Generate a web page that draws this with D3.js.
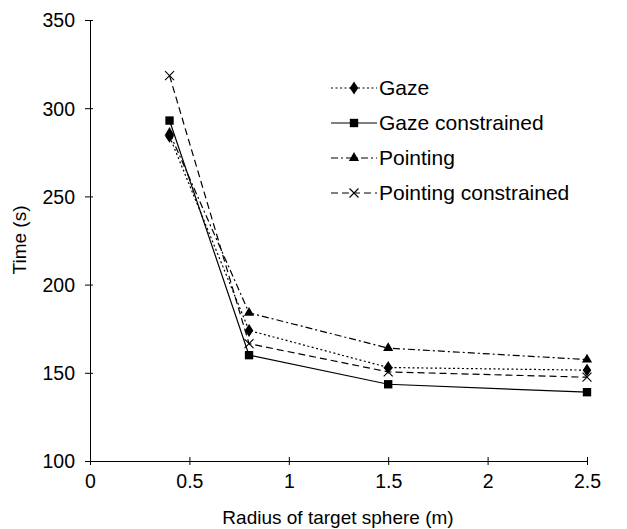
<!DOCTYPE html>
<html><head><meta charset="utf-8">
<script src="https://cdn.jsdelivr.net/npm/d3@7"></script>
<style>body{margin:0;background:#fff}svg{display:block;font-family:"Liberation Sans",Arial,sans-serif}</style>
</head><body><svg id="c" width="627" height="529"></svg>
<script>
const radii = [0.4, 0.8, 1.5, 2.5];
const gaze = [284, 174, 153, 151.5];
const gazeConstrained = [293, 160, 143.5, 139];
const pointing = [286, 184, 164, 157.5];
const pointingConstrained = [318.5, 166.5, 150.5, 147.5];
const xTicks = [0, 0.5, 1, 1.5, 2, 2.5];
const yTicks = [100, 150, 200, 250, 300, 350];
const seriesNames = ["Gaze", "Gaze constrained", "Pointing", "Pointing constrained"];

const series = [
  {name: seriesNames[0], values: gaze, dash: "2,2.5", sym: d3.symbolDiamond, size: 48},
  {name: seriesNames[1], values: gazeConstrained, dash: null, sym: d3.symbolSquare, size: 70},
  {name: seriesNames[2], values: pointing, dash: "7,3,2,3", sym: d3.symbolTriangle, size: 45},
  {name: seriesNames[3], values: pointingConstrained, dash: "7,4", sym: "x", size: 4.5}
];

const svg = d3.select("#c");
const x = d3.scaleLinear().domain([0, 2.5]).range([90, 587]);
const y = d3.scaleLinear().domain([100, 350]).range([461, 20]);

// axes
const xa = svg.append("g").attr("transform", "translate(0,461)")
  .call(d3.axisBottom(x).tickValues(xTicks).tickFormat(d => d).tickSizeInner(4).tickSizeOuter(0).tickPadding(9));
xa.selectAll(".tick line").attr("y1", -4).attr("y2", 4);
const ya = svg.append("g").attr("transform", "translate(90,0)")
  .call(d3.axisLeft(y).tickValues(yTicks).tickSizeInner(5).tickSizeOuter(0).tickPadding(10));
ya.selectAll(".tick line").attr("x2", 3).attr("x1", -5);
[xa, ya].forEach(a => {
  a.selectAll("text").attr("font-size", 19.5).attr("fill", "#000").attr("font-family", "Liberation Sans, Arial, sans-serif");
  a.select(".domain").attr("stroke", "#000");
  a.selectAll(".tick line").attr("stroke", "#000");
});
xa.selectAll("text").attr("dy", "0.71em");
ya.selectAll("text").attr("dy", "0.35em");

svg.append("text").attr("x", 338).attr("y", 524).attr("text-anchor", "middle").attr("font-size", 19).text("Radius of target sphere (m)");
svg.append("text").attr("transform", "translate(26,240) rotate(-90)").attr("text-anchor", "middle").attr("font-size", 19).text("Time (s)");

function drawMarker(g, s, cx, cy) {
  if (s.sym === "x") {
    const r = s.size;
    g.append("path").attr("d", `M${cx-r},${cy-r}L${cx+r},${cy+r}M${cx-r},${cy+r}L${cx+r},${cy-r}`)
      .attr("stroke", "#000").attr("stroke-width", 1.1).attr("fill", "none");
  } else {
    let sym = d3.symbol().type(s.sym).size(s.size);
    let path = g.append("path").attr("d", sym()).attr("fill", "#000");
    if (s.sym === d3.symbolDiamond) path.attr("transform", `translate(${cx},${cy}) scale(1.15,1)`);
    else path.attr("transform", `translate(${cx},${cy})`);
  }
}

const line = d3.line().x((d, i) => x(radii[i])).y(d => y(d));
series.forEach(s => {
  const g = svg.append("g");
  g.append("path").datum(s.values).attr("d", line).attr("fill", "none").attr("stroke", "#000")
    .attr("stroke-width", 1.2).attr("stroke-dasharray", s.dash);
  s.values.forEach((v, i) => drawMarker(g, s, x(radii[i]), y(v)));
});

// legend
const legY = [88, 123, 158, 193];
series.forEach((s, i) => {
  const g = svg.append("g");
  g.append("line").attr("x1", 331).attr("x2", 377).attr("y1", legY[i]).attr("y2", legY[i])
    .attr("stroke", "#000").attr("stroke-width", 1.2).attr("stroke-dasharray", s.dash);
  drawMarker(g, s, 354, legY[i]);
  g.append("text").attr("x", 379).attr("y", legY[i]).attr("dy", "0.35em").attr("font-size", 21).text(s.name);
});
</script></body></html>
